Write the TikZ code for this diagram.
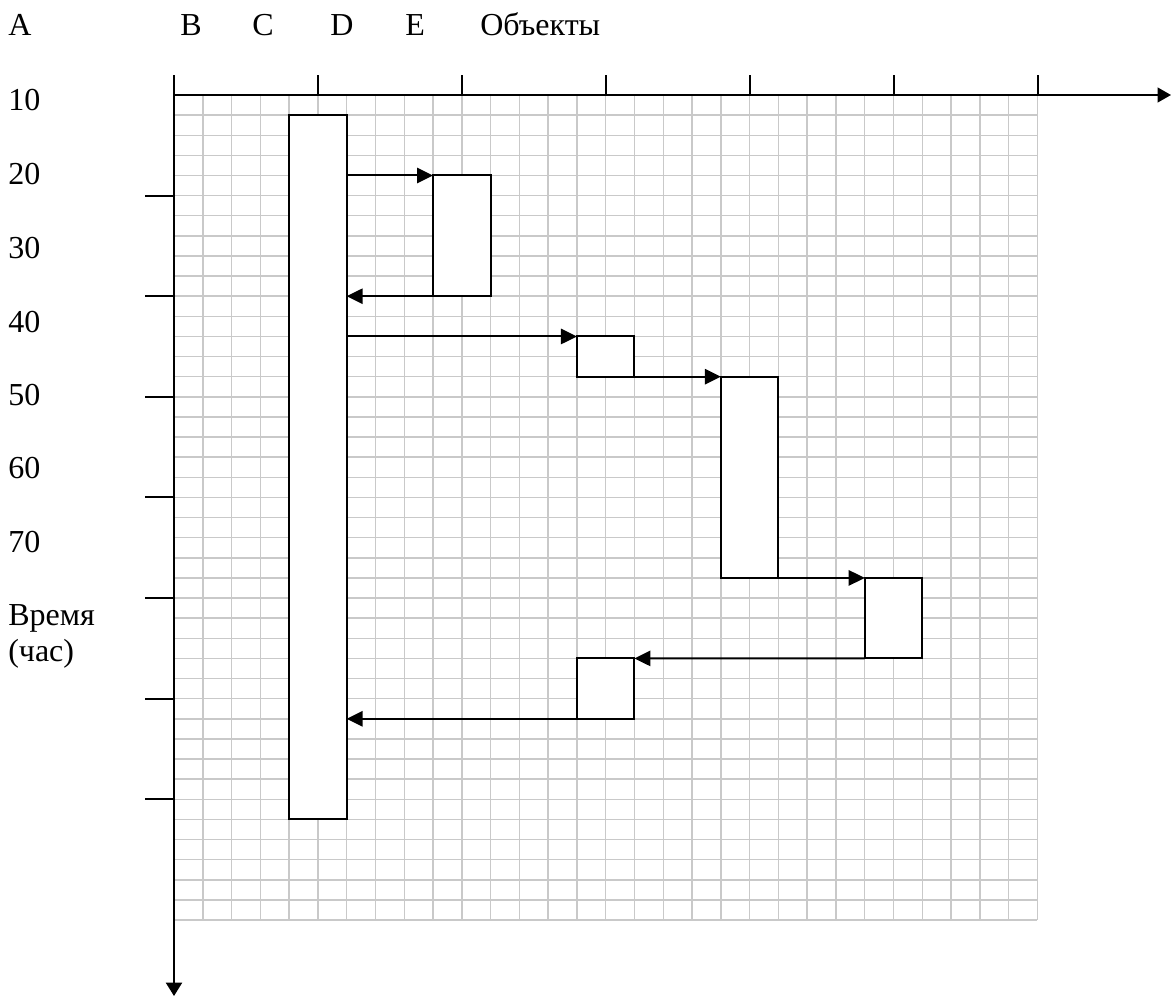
\documentclass[tikz,border=0pt]{standalone}
\usepackage{fontspec}
\setmainfont{Liberation Serif}
\usetikzlibrary{arrows.meta,fit}
\tikzset{
  ax/.style={line width=1.5pt},
  gridline/.style={draw=black!21, line width=1.1pt},
  box/.style={draw=black, fill=white, line width=1.5pt, inner sep=0pt, outer sep=0pt},
  arr/.style={line width=1.5pt, -{Triangle[length=12pt,width=11.5pt]}},
  lbl/.style={inner sep=0pt, anchor=base west, font=\fontsize{24}{28}\selectfont},
}
\begin{document}
\begin{tikzpicture}[x=0.75pt,y=-0.75pt]
\useasboundingbox (0,0) rectangle (1171,996);
% labels on top
\node[lbl] (lA) at (8,35.5) {A};
\node[lbl] (lB) at (180,35.5) {B};
\node[lbl] (lC) at (252,35.5) {C};
\node[lbl] (lD) at (330,35.5) {D};
\node[lbl] (lE) at (405,35.5) {E};
\node[lbl] (lObj) at (480,35.5) {Объекты};
% labels on the left
\node[lbl] (t10) at (8,110.5) {10};
\node[lbl] (t20) at (8,184) {20};
\node[lbl] (t30) at (8,258) {30};
\node[lbl] (t40) at (8,332) {40};
\node[lbl] (t50) at (8,405) {50};
\node[lbl] (t60) at (8,478) {60};
\node[lbl] (t70) at (8,552) {70};
\node[lbl] (tV) at (8,625) {Время};
\node[lbl] (tC) at (8,661) {(час)};
% grid and boxes in grid units
\begin{scope}[shift={(174,95)}, x=21.585pt, y=-15.0915pt]
  \foreach \i in {0,...,30} \draw[gridline] (\i,0) -- (\i,41);
  \foreach \j in {0,...,41} \draw[gridline] (0,\j) -- (30,\j);
  \node[box, fit={(4,1)(6,36)}] (big) {};
  \node[box, fit={(9,4)(11,10)}] (b2) {};
  \node[box, fit={(14,12)(16,14)}] (b3) {};
  \node[box, fit={(19,14)(21,24)}] (b4) {};
  \node[box, fit={(24,24)(26,28)}] (b5) {};
  \node[box, fit={(14,28)(16,31)}] (b6) {};
\end{scope}
% axes
\coordinate (O) at (174,95);
\coordinate (xend) at (1171,95);
\coordinate (ytop) at (174,75);
\coordinate (yend) at (174,996);
\draw[ax, -{Triangle[length=10pt,width=11pt]}] (O) -- (xend);
\draw[ax, -{Triangle[length=10pt,width=12pt]}] (ytop) -- (yend);
\foreach \k in {0,...,6} \draw[ax] (174+144*\k,75) -- (174+144*\k,95);
\foreach \k in {1,...,7} \draw[ax] (145,95+100.6*\k) -- (174,95+100.6*\k);
% message arrows
\draw[arr] (big.east |- b2.north west) -- (b2.north west);
\draw[arr] (b2.south west) -- (big.east |- b2.south west);
\draw[arr] (big.east |- b3.north west) -- (b3.north west);
\draw[arr] (b3.south east) -- (b4.north west);
\draw[arr] (b4.south east) -- (b5.north west);
\draw[arr] (b5.south west) -- (b6.north east);
\draw[arr] (b6.south west) -- (big.east |- b6.south west);
\end{tikzpicture}
\end{document}
